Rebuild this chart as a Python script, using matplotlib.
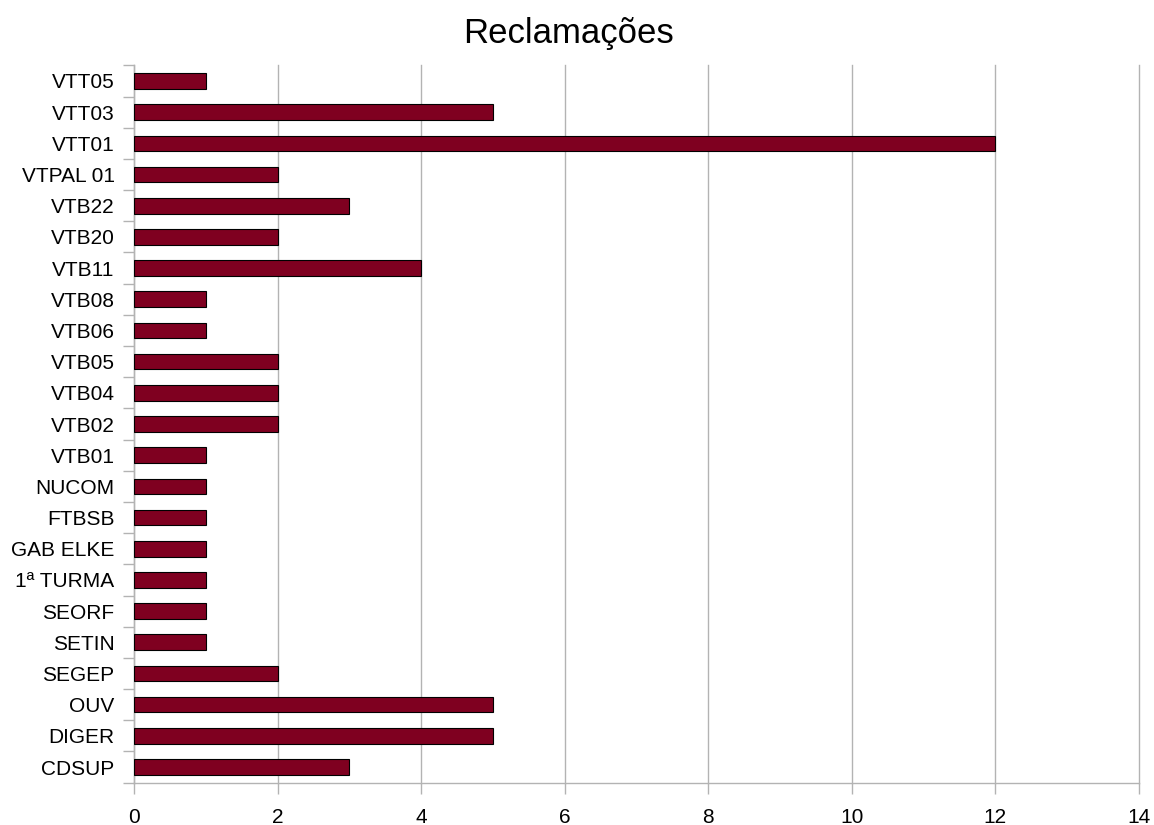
import matplotlib
matplotlib.use("Agg")
import matplotlib.pyplot as plt
import numpy as np

categories = ["CDSUP", "DIGER", "OUV", "SEGEP", "SETIN", "SEORF", "1ª TURMA",
              "GAB ELKE", "FTBSB", "NUCOM", "VTB01", "VTB02", "VTB04", "VTB05",
              "VTB06", "VTB08", "VTB11", "VTB20", "VTB22", "VTPAL 01", "VTT01",
              "VTT03", "VTT05"]
values = [3, 5, 5, 2, 1, 1, 1, 1, 1, 1, 1, 2, 2, 2, 1, 1, 4, 2, 3, 2, 12, 5, 1]
xticks = [0, 2, 4, 6, 8, 10, 12, 14]

plt.rcParams['font.family'] = ['Liberation Sans', 'DejaVu Sans']

fig = plt.figure(figsize=(11.54, 8.25), dpi=100)
ax = fig.add_axes([134/1154, 1-782.6/825, (1139-134)/1154, (782.6-65.4)/825])

y = np.arange(len(categories))
ax.barh(y, values, height=0.5, color='#7f0020', edgecolor='black', linewidth=0.8, zorder=3)

ax.set_xlim(0, 14)
ax.set_ylim(-0.5, len(categories) - 0.5)
ax.set_xticks(xticks)
ax.set_xticklabels([str(t) for t in xticks])
ax.set_yticks(y)
ax.set_yticklabels(categories)
ax.set_yticks(np.arange(-0.5, len(categories), 1), minor=True)

gray = '#b3b3b3'
ax.grid(axis='x', color=gray, linewidth=1, zorder=0, clip_on=False)
for s in ['top', 'right']:
    ax.spines[s].set_visible(False)
for s in ['left', 'bottom']:
    ax.spines[s].set_color(gray)
    ax.spines[s].set_linewidth(1)

ax.tick_params(axis='y', which='major', length=0, pad=14, labelsize=15)
ax.tick_params(axis='y', which='minor', length=8, color=gray, width=1)
ax.tick_params(axis='x', which='major', length=8, color=gray, width=1, pad=10.5, labelsize=15)

fig.text(569/1154, 1-33/825, "Reclamações", ha='center', va='center', fontsize=25)

fig.savefig("out.png", dpi=100)
